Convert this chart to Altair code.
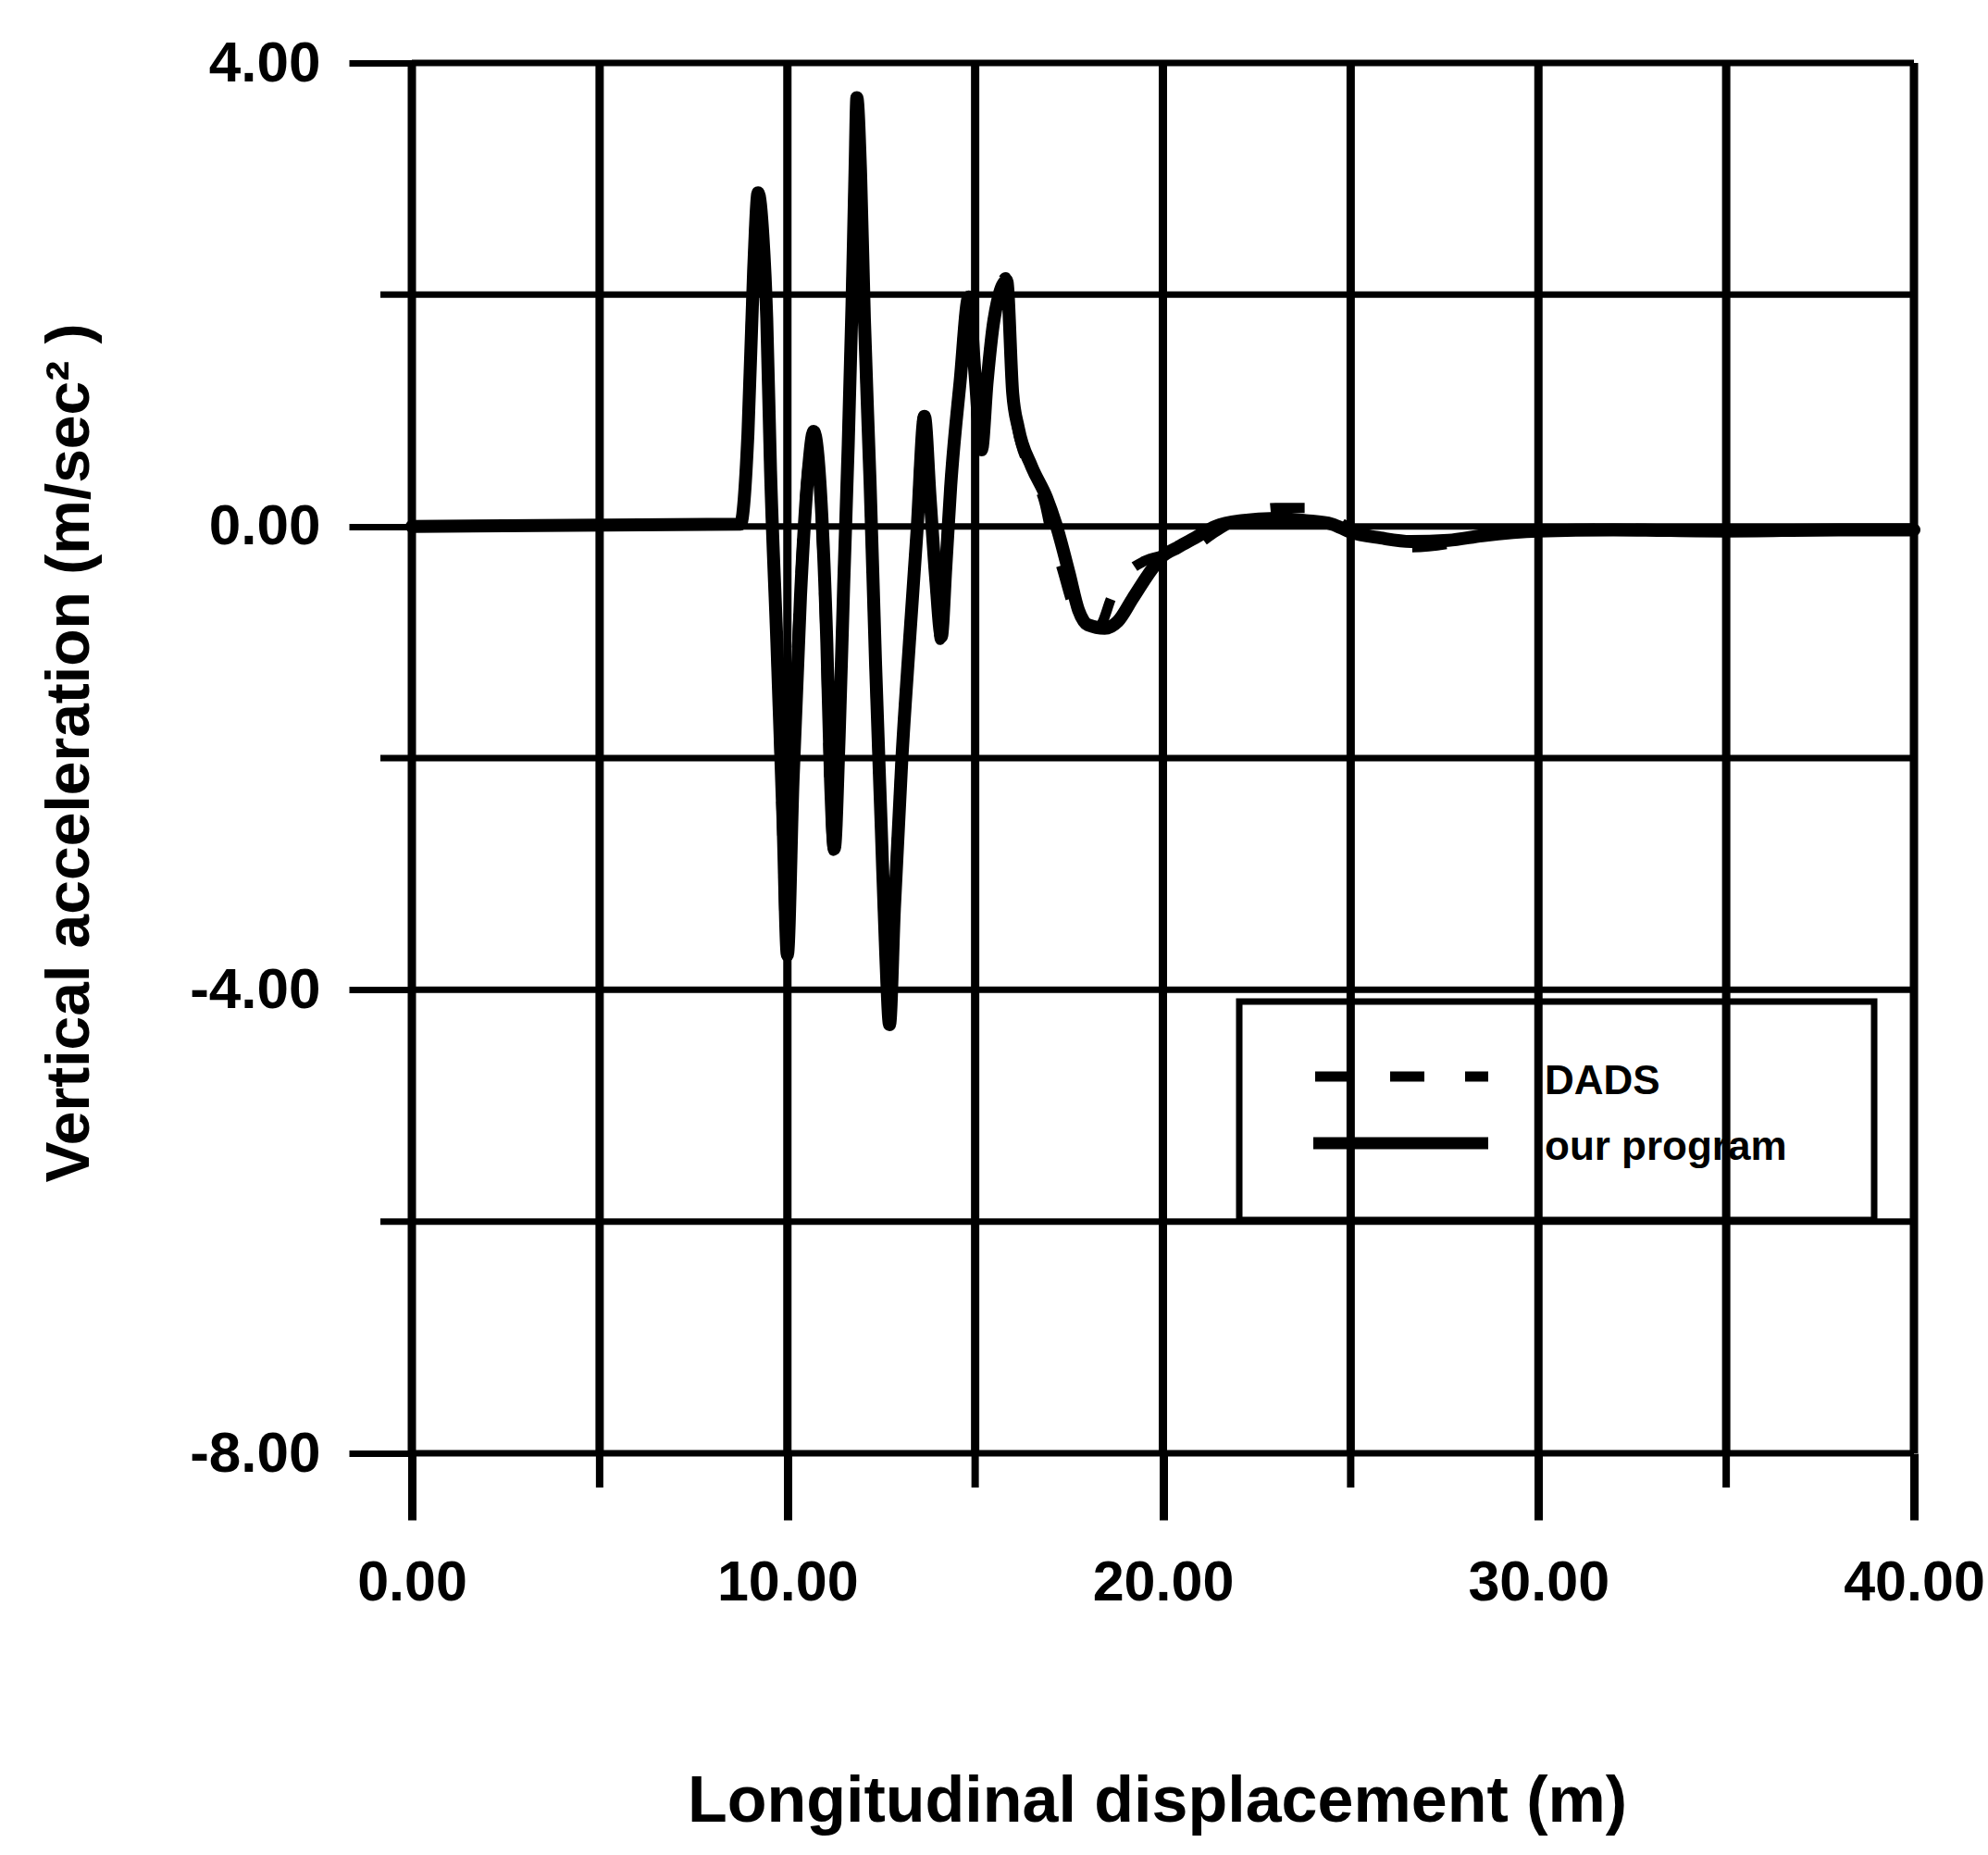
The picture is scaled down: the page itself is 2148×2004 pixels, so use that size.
import altair as alt
import pandas as pd

# --- measured response: "our program" (solid) ---
X_OURS = [0, 8.75, 8.95, 9.1, 9.22, 9.35, 9.45, 9.55, 9.72, 9.88, 10.0, 10.15, 10.35,
          10.55, 10.7, 10.9, 11.05, 11.15, 11.25, 11.38, 11.5, 11.62, 11.72, 11.8, 11.85,
          11.95, 12.05, 12.2, 12.35, 12.5, 12.62, 12.72, 12.85, 13.05, 13.25, 13.45, 13.65,
          13.8, 13.95, 14.1, 14.22, 14.35, 14.6, 14.83, 15.0, 15.17, 15.32, 15.5, 15.84,
          16.0, 16.15, 16.5, 16.9, 17.15, 17.5, 17.75, 18.0, 18.45, 18.8, 19.2, 19.6,
          19.95, 20.4, 20.85, 21.4, 22.1, 23.0, 23.8, 24.5, 25.0, 25.8, 26.6, 27.6, 28.5,
          30.0, 32.0, 35.0, 38.0, 40.0]
Y_OURS = [0, 0.02, 0.8, 2.2, 2.88, 2.5, 1.8, 0.5, -1.0, -2.5, -3.7, -2.2, -0.6,
          0.45, 0.82, 0.2, -1.0, -2.2, -2.78, -1.8, -0.5, 0.7, 1.9, 3.05, 3.7,
          3.05, 1.8, 0.4, -1.2, -2.6, -3.7, -4.3, -3.3, -2.0, -1.0, -0.05, 0.95,
          0.25, -0.45, -0.95, -0.35, 0.35, 1.25, 1.98, 1.3, 0.66, 1.25, 1.78, 2.12,
          1.15, 0.85, 0.52, 0.25, 0.02, -0.4, -0.72, -0.85, -0.88, -0.82, -0.62, -0.42,
          -0.27, -0.18, -0.1, 0.0, 0.05, 0.07, 0.05, 0.02, -0.05, -0.1, -0.13, -0.12, -0.08,
          -0.04, -0.03, -0.04, -0.03, -0.03]

# --- reference response: DADS (dashed) ---
X_DADS = [0, 8.75, 8.93, 9.08, 9.2, 9.33, 9.43, 9.53, 9.7, 9.85, 9.97, 10.12, 10.32,
          10.52, 10.68, 10.87, 11.02, 11.12, 11.22, 11.36, 11.48, 11.6, 11.7, 11.78, 11.83,
          11.93, 12.03, 12.18, 12.33, 12.48, 12.6, 12.7, 12.83, 13.03, 13.23, 13.43, 13.62,
          13.78, 13.93, 14.07, 14.2, 14.33, 14.58, 14.8, 14.97, 15.14, 15.3, 15.48, 15.82,
          15.98, 16.12, 16.45, 16.85, 17.05, 17.3, 17.6, 17.9, 18.3, 18.65, 19.0, 19.5,
          20.0, 20.7, 21.4, 22.2, 23.0, 23.8, 24.5, 25.0, 25.8, 26.6, 27.6, 28.5,
          30.0, 32.0, 35.0, 38.0, 40.0]
Y_DADS = [0, 0.02, 0.8, 2.2, 2.9, 2.5, 1.8, 0.5, -1.0, -2.5, -3.65, -2.2, -0.6,
          0.45, 0.8, 0.2, -1.0, -2.2, -2.8, -1.8, -0.5, 0.7, 1.9, 3.05, 3.68,
          3.05, 1.8, 0.4, -1.2, -2.6, -3.7, -4.35, -3.3, -2.0, -1.0, -0.05, 0.95,
          0.25, -0.45, -0.98, -0.35, 0.35, 1.25, 1.95, 1.3, 0.64, 1.25, 1.78, 2.15,
          1.15, 0.85, 0.5, 0.2, -0.1, -0.35, -0.68, -0.85, -0.86, -0.6, -0.42, -0.3,
          -0.25, -0.2, -0.05, 0.1, 0.16, 0.16, 0.08, -0.02, -0.1, -0.18, -0.15, -0.08,
          -0.04, -0.02, -0.03, -0.03, -0.03]

# grid and tick positions
GRID_X = [0, 5, 10, 15, 20, 25, 30, 35, 40]
GRID_Y = [-8, -6, -4, -2, 0, 2, 4]
MAJOR_X = [0, 10, 20, 30, 40]
MAJOR_Y = [-8, -4, 0, 4]
MINOR_X = [5, 15, 25, 35]
MINOR_Y = [-6, -2, 2]

SERIES = ["DADS", "our program"]

X_TITLE = "Longitudinal displacement (m)"
Y_TITLE = "Vertical acceleration (m/sec\u00b2 )"

W, H = 1623, 1502
FONT = "Liberation Sans"

# two decimals, plain hyphen for negatives
LABEL_EXPR = "replace(format(datum.value, '.2f'), '\u2212', '-')"

xs = alt.Scale(domain=[0, 40], nice=False, zero=False)
ys = alt.Scale(domain=[-8, 4], nice=False, zero=False)

ours = pd.DataFrame({"x": X_OURS, "y": Y_OURS})
dads = pd.DataFrame({"x": X_DADS, "y": Y_DADS})
one = pd.DataFrame({"k": [0]})

# one axis definition per channel, shared by every layer that uses the scale
x_axis = alt.Axis(
    values=MAJOR_X, labelExpr=LABEL_EXPR, grid=False, domain=False,
    tickSize=72, tickWidth=9, tickColor="black",
    labelFont=FONT, labelFontSize=61, labelFontWeight="bold", labelColor="black",
    labelPadding=38, labelFlush=False, labelOverlap=False,
    title=X_TITLE, titleFont=FONT, titleFontSize=70, titleFontWeight="bold",
    titleColor="black", titleX=805, titleY=397, titleBaseline="alphabetic",
)
y_axis = alt.Axis(
    values=MAJOR_Y, labelExpr=LABEL_EXPR, grid=False, domain=False,
    tickSize=68, tickWidth=7, tickColor="black",
    labelFont=FONT, labelFontSize=62, labelFontWeight="bold", labelColor="black",
    labelPadding=31, labelFlush=False, labelOverlap=False,
    title=Y_TITLE, titleFont=FONT, titleFontSize=66, titleFontWeight="bold",
    titleColor="black", titleX=-350, titleY=745, titleBaseline="alphabetic",
)

line_ours = alt.Chart(ours).mark_line(
    color="black", strokeWidth=14, interpolate="monotone",
    strokeJoin="round", strokeCap="round"
).encode(
    x=alt.X("x:Q", scale=xs, axis=x_axis),
    y=alt.Y("y:Q", scale=ys, axis=y_axis),
)
line_dads = alt.Chart(dads).mark_line(
    color="black", strokeWidth=11, interpolate="monotone",
    strokeDash=[37, 44], strokeJoin="round"
).encode(
    x=alt.X("x:Q", scale=xs, axis=x_axis),
    y=alt.Y("y:Q", scale=ys, axis=y_axis),
)

# grid lines
vgrid = alt.Chart(pd.DataFrame({"gx": GRID_X})).mark_rule(
    color="black", strokeWidth=9
).encode(
    x=alt.X("gx:Q", scale=xs, axis=x_axis),
    y=alt.value(0),
    y2=alt.value(H),
)
hgrid = alt.Chart(pd.DataFrame({"gy": GRID_Y})).mark_rule(
    color="black", strokeWidth=7
).encode(
    y=alt.Y("gy:Q", scale=ys, axis=y_axis),
    x=alt.value(0),
    x2=alt.value(W),
)

# short minor ticks below the frame and left of it
xminor = alt.Chart(pd.DataFrame({"mx": MINOR_X})).mark_rule(
    color="black", strokeWidth=8
).encode(
    x=alt.X("mx:Q", scale=xs, axis=x_axis),
    y=alt.value(H),
    y2=alt.value(H + 37),
)
yminor = alt.Chart(pd.DataFrame({"my": MINOR_Y})).mark_rule(
    color="black", strokeWidth=7
).encode(
    y=alt.Y("my:Q", scale=ys, axis=y_axis),
    x=alt.value(-34),
    x2=alt.value(0),
)

# legend box drawn inside the plot
box = alt.Chart(one).mark_rect(
    fillOpacity=0, stroke="black", strokeWidth=7
).encode(
    x=alt.value(894), x2=alt.value(1580), y=alt.value(1014), y2=alt.value(1250)
)
sym_dads = alt.Chart(one).mark_rule(
    color="black", strokeWidth=11, strokeDash=[37, 44]
).encode(x=alt.value(976), x2=alt.value(1163), y=alt.value(1095))
sym_ours = alt.Chart(one).mark_rule(
    color="black", strokeWidth=13
).encode(x=alt.value(974), x2=alt.value(1163), y=alt.value(1167))
lab_dads = alt.Chart(one).mark_text(
    text=SERIES[0], font=FONT, fontSize=44, fontWeight="bold", color="black",
    align="left", baseline="alphabetic"
).encode(x=alt.value(1224), y=alt.value(1114))
lab_ours = alt.Chart(one).mark_text(
    text=SERIES[1], font=FONT, fontSize=44, fontWeight="bold", color="black",
    align="left", baseline="alphabetic"
).encode(x=alt.value(1224), y=alt.value(1185))

chart = alt.layer(
    line_ours, line_dads, vgrid, hgrid, xminor, yminor,
    box, sym_dads, sym_ours, lab_dads, lab_ours
).properties(
    width=W, height=H,
    autosize="none",
    padding={"left": 445, "top": 68, "right": 78, "bottom": 420},
    background="white",
).configure_view(stroke=None)

chart.save("out.html", embed_options={"renderer": "svg", "actions": False})
